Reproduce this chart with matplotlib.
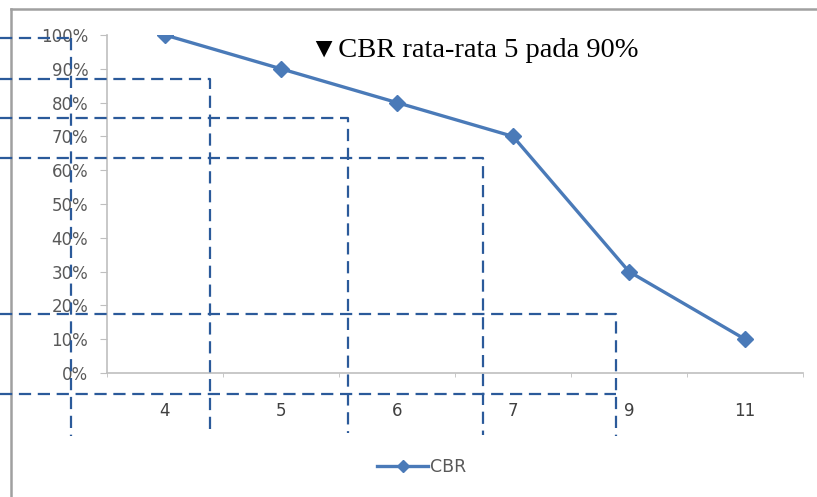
import matplotlib
matplotlib.use("Agg")
import matplotlib.pyplot as plt
from matplotlib.ticker import PercentFormatter, FixedLocator
from matplotlib.lines import Line2D

# ---- data ----
categories = ["4", "5", "6", "7", "9", "11"]
cbr_values = [1.00, 0.90, 0.80, 0.70, 0.30, 0.10]
series_name = "CBR"
annotation = "\u25BCCBR rata-rata 5 pada 90%"

W, H = 817, 497
fig = plt.figure(figsize=(W / 100, H / 100), dpi=100)
fig.patch.set_facecolor("white")

def px_rect(x0, y0, x1, y1):
    return [x0 / W, 1 - y1 / H, (x1 - x0) / W, (y1 - y0) / H]

ax = fig.add_axes(px_rect(107, 35, 803, 373))
x = list(range(len(categories)))
ax.plot(x, cbr_values, color="#4A7AB8", lw=2.4, marker="D", ms=8,
        label=series_name, zorder=3)
ax.set_xlim(-0.5, len(categories) - 0.5)
ax.set_ylim(0, 1)
ax.yaxis.set_major_locator(FixedLocator([i / 10 for i in range(11)]))
ax.yaxis.set_major_formatter(PercentFormatter(1.0, decimals=0))
ax.set_xticks(x)
ax.set_xticklabels(categories)
ax.xaxis.set_minor_locator(FixedLocator([i - 0.5 for i in range(len(categories) + 1)]))

for s in ["top", "right"]:
    ax.spines[s].set_visible(False)
for s in ["left", "bottom"]:
    ax.spines[s].set_color("#BFBFBF")
    ax.spines[s].set_linewidth(1.2)
ax.tick_params(axis="y", which="major", direction="out", length=5, color="#BFBFBF",
               labelcolor="#595959", labelsize=12, pad=8.5)
ax.tick_params(axis="x", which="major", length=0, labelcolor="#404040",
               labelsize=12, pad=21)
ax.tick_params(axis="x", which="minor", direction="out", length=3, color="#BFBFBF")
ax.set_facecolor("none")

leg = fig.legend(loc="center", bbox_to_anchor=(422 / W, 1 - 467 / H), frameon=False,
                 fontsize=12.5, handlelength=2.9, handletextpad=0.15, markerscale=0.75)
for t in leg.get_texts():
    t.set_color("#595959")

# ---- overlay: frame, guide lines, note (pixel coordinates) ----
ov = fig.add_axes([0, 0, 1, 1], zorder=5)
ov.set_xlim(0, W)
ov.set_ylim(H, 0)
ov.axis("off")
ov.patch.set_alpha(0)

ov.plot([11, W], [9, 9], color="#A0A0A0", lw=1.8)
ov.plot([11, 11], [9, H], color="#A0A0A0", lw=1.8)

guides = [
    ([0, 71], [38, 38]),
    ([71, 71], [38, 436]),
    ([0, 210, 210], [79, 79, 432]),
    ([0, 348, 348], [118, 118, 433]),
    ([0, 483, 483], [158, 158, 435]),
    ([0, 616, 616], [314, 314, 436]),
    ([0, 616], [394, 394]),
]
for gx, gy in guides:
    ln = Line2D(gx, gy, color="#2B5A9A", lw=1.6)
    ln.set_dashes((5.5, 3.0))
    ov.add_line(ln)

ov.text(310, 57, annotation, fontsize=20.5, va="baseline", ha="left",
        family=["Liberation Serif", "DejaVu Serif"], color="black")

fig.savefig("out.png", dpi=100, facecolor="white")
